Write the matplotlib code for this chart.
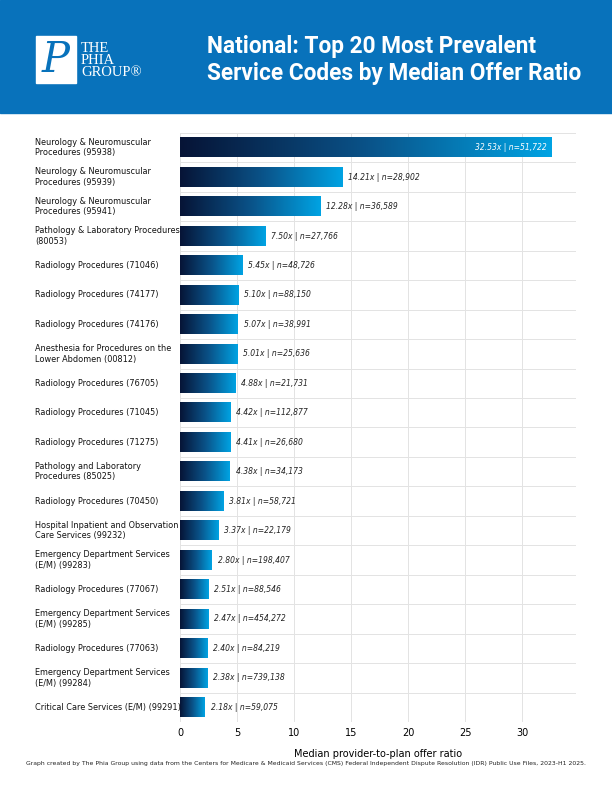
import numpy as np
import matplotlib.pyplot as plt
from matplotlib.colors import LinearSegmentedColormap
from matplotlib.patches import Rectangle

labels = [
    "Neurology & Neuromuscular\nProcedures (95938)",
    "Neurology & Neuromuscular\nProcedures (95939)",
    "Neurology & Neuromuscular\nProcedures (95941)",
    "Pathology & Laboratory Procedures\n(80053)",
    "Radiology Procedures (71046)",
    "Radiology Procedures (74177)",
    "Radiology Procedures (74176)",
    "Anesthesia for Procedures on the\nLower Abdomen (00812)",
    "Radiology Procedures (76705)",
    "Radiology Procedures (71045)",
    "Radiology Procedures (71275)",
    "Pathology and Laboratory\nProcedures (85025)",
    "Radiology Procedures (70450)",
    "Hospital Inpatient and Observation\nCare Services (99232)",
    "Emergency Department Services\n(E/M) (99283)",
    "Radiology Procedures (77067)",
    "Emergency Department Services\n(E/M) (99285)",
    "Radiology Procedures (77063)",
    "Emergency Department Services\n(E/M) (99284)",
    "Critical Care Services (E/M) (99291)",
]
ratios = [32.53, 14.21, 12.28, 7.50, 5.45, 5.10, 5.07, 5.01, 4.88, 4.42,
          4.41, 4.38, 3.81, 3.37, 2.80, 2.51, 2.47, 2.40, 2.38, 2.18]
counts = [51722, 28902, 36589, 27766, 48726, 88150, 38991, 25636, 21731, 112877,
          26680, 34173, 58721, 22179, 198407, 88546, 454272, 84219, 739138, 59075]

BANNER = "#0872bb"
cmap = LinearSegmentedColormap.from_list("bar", ["#061436", "#0a5288", "#00a3e3"])
grad = np.linspace(0, 1, 256).reshape(1, -1)

fig = plt.figure(figsize=(6.12, 7.92), dpi=100)

# header banner
fig.patches.append(Rectangle((0, 1 - 113 / 792), 1, 113 / 792, transform=fig.transFigure,
                             color=BANNER, zorder=0))
fig.patches.append(Rectangle((36 / 612, 1 - 83 / 792), 40 / 612, 47 / 792,
                             transform=fig.transFigure, color="white", zorder=1))
fig.text(56 / 612, 1 - 60 / 792, "P", fontsize=30, family="DejaVu Serif", style="italic",
         color=BANNER, ha="center", va="center")
fig.text(81 / 612, 1 - 60 / 792, "THE\nPHIA\nGROUP\u00ae", fontsize=10.5, family="Liberation Serif",
         color="white", ha="left", va="center", linespacing=0.9)
fig.text(207 / 612, 1 - 60 / 792, "National: Top 20 Most Prevalent\nService Codes by Median Offer Ratio",
         fontsize=16.3, fontweight="bold", color="white", ha="left", va="center",
         family="Roboto", linespacing=1.2)

ax = fig.add_axes([180 / 612, 70 / 792, 396 / 612, 589 / 792])
n = len(ratios)
y = np.arange(n)
ax.set_xlim(0, 34.7)
ax.set_ylim(n - 0.5, -0.5)
h = 0.66
for i, (r, c) in enumerate(zip(ratios, counts)):
    ax.imshow(grad, cmap=cmap, aspect="auto", extent=(0, r, i + h / 2, i - h / 2), zorder=2)
    txt = f"{r:.2f}x | n={c:,}"
    if r > 30:
        ax.text(r - 0.4, i, txt, fontsize=5.5, style="italic", va="center", ha="right",
                color="white", zorder=3)
    else:
        ax.text(r + 0.5, i, txt, fontsize=5.5, style="italic", va="center", ha="left",
                color="#222222", zorder=3)
ax.set_xticks(np.arange(0, 31, 5))
ax.set_yticks(y)
ax.set_yticklabels([])
for i, lab in enumerate(labels):
    ax.text(-145 / 396 * 34.7, i, lab, fontsize=5.9, va="center", ha="left", color="#111111")
ax.set_yticks(np.arange(-0.5, n, 1), minor=True)
ax.tick_params(axis="y", which="both", length=0)
ax.tick_params(axis="x", length=0, labelsize=7, pad=4)
ax.grid(axis="x", color="#e3e3e3", lw=0.7, zorder=0)
ax.grid(axis="y", which="minor", color="#e3e3e3", lw=0.7, zorder=0)
ax.set_axisbelow(True)
for s in ax.spines.values():
    s.set_visible(False)
ax.set_xlabel("Median provider-to-plan offer ratio", fontsize=7, labelpad=8)

fig.text(26 / 612, 1 - 763 / 792,
         "Graph created by The Phia Group using data from the Centers for Medicare & Medicaid Services (CMS) "
         "Federal Independent Dispute Resolution (IDR) Public Use Files, 2023-H1 2025.",
         fontsize=4.4, color="#222222", ha="left", va="center")

fig.savefig("out.png", dpi=100)
